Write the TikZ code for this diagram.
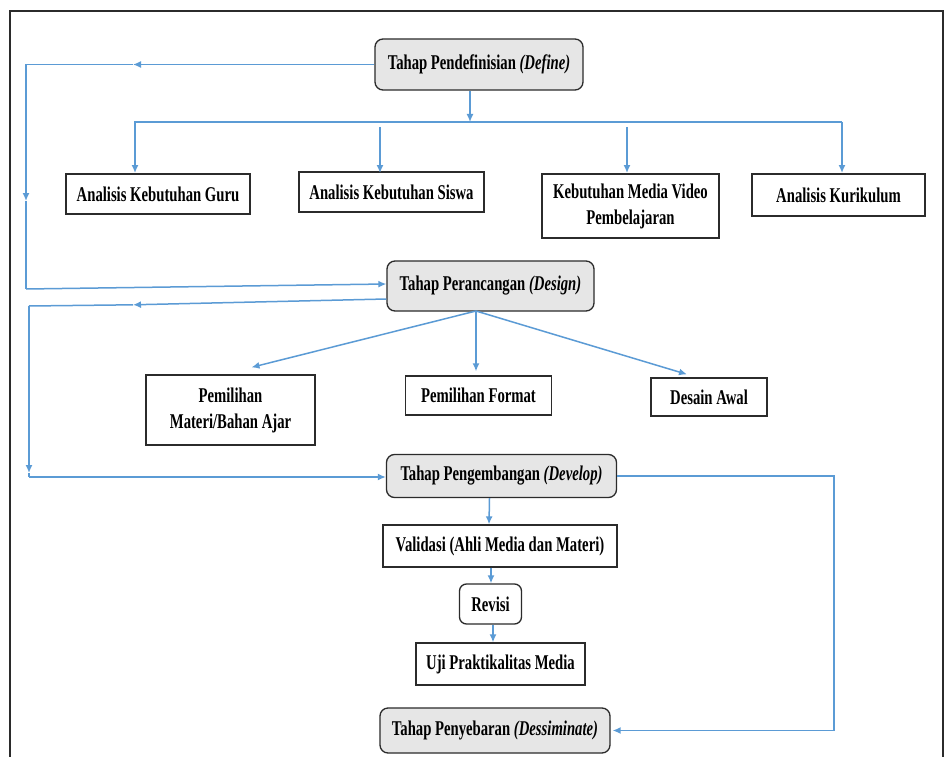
\documentclass[tikz,border=0pt]{standalone}
\usepackage{fontspec}
\setmainfont{Liberation Serif}[FakeStretch=0.70]
\usetikzlibrary{arrows.meta,calc}
\definecolor{flow}{HTML}{5B9BD5}
\definecolor{boxgray}{HTML}{E6E6E6}
\definecolor{edgecol}{HTML}{2B2B2B}
\begin{document}
\begin{tikzpicture}[x=1pt,y=-1pt,
  txt/.style={font=\fontsize{21}{26}\selectfont\bfseries, align=center, inner sep=0pt},
  phase/.style={txt, draw=edgecol, fill=boxgray, rounded corners=8pt, line width=1.3pt},
  plain/.style={txt, draw=edgecol, fill=white, line width=1.3pt},
  soft/.style={txt, draw=edgecol, fill=white, rounded corners=7pt, line width=1.3pt},
  link/.style={draw=flow, line width=1.5pt},
  arr/.style={link, -{Latex[length=8pt,width=7pt]}},
]
\useasboundingbox (0,0) rectangle (947,757);
\fill[white] (0,0) rectangle (947,757);
\draw[edgecol, line width=1.3pt] (10,11) rectangle (943,770);

% nodes
\node[phase, minimum width=208pt, minimum height=51pt] (define) at (479,64.5) {Tahap Pendefinisian \textit{(Define)}};
\node[plain, minimum width=184pt, minimum height=40pt] (guru) at (158,194) {Analisis Kebutuhan Guru};
\node[plain, minimum width=185pt, minimum height=40pt] (siswa) at (391.5,192) {Analisis Kebutuhan Siswa};
\node[plain, minimum width=177pt, minimum height=64pt] (media) at (630.5,206) {Kebutuhan Media Video\\Pembelajaran};
\node[plain, minimum width=173pt, minimum height=42pt] (kurikulum) at (838.5,195) {Analisis Kurikulum};

\node[phase, minimum width=207pt, minimum height=50pt] (design) at (490.5,286) {Tahap Perancangan \textit{(Design)}};
\node[plain, minimum width=169pt, minimum height=70pt] (materi) at (230.5,410) {Pemilihan\\Materi/Bahan Ajar};
\node[plain, minimum width=146pt, minimum height=39pt] (format) at (478.5,395.5) {Pemilihan Format};
\node[plain, minimum width=116pt, minimum height=38pt] (desain) at (709,397) {Desain Awal};

\node[phase, minimum width=230pt, minimum height=43pt] (develop) at (501.5,476) {Tahap Pengembangan \textit{(Develop)}};
\node[plain, minimum width=234pt, minimum height=42pt] (validasi) at (500,546) {Validasi (Ahli Media dan Materi)};
\node[soft, minimum width=62pt, minimum height=40pt] (revisi) at (490.5,604) {Revisi};
\node[plain, minimum width=169pt, minimum height=42pt] (uji) at (500.5,664) {Uji Praktikalitas Media};
\node[phase, minimum width=230pt, minimum height=45pt] (dessim) at (495,730.5) {Tahap Penyebaran \textit{(Dessiminate)}};

% coordinates
\coordinate (m1) at (133,64.5);
\coordinate (l1) at (26,64.5);
\coordinate (m2) at (26,201);
\coordinate (l2) at (26,289);
\coordinate (m3) at (133,304.8);
\coordinate (l3) at (29,306);
\coordinate (m4) at (29,473);
\coordinate (l4) at (29,477);
\coordinate (busL) at (134,122);
\coordinate (busR) at (842,122);
\coordinate (busD) at (470,122);
\coordinate (r1) at (834,476);
\coordinate (r2) at (834,730.5);
\coordinate (fan) at (476,311);

% define loop to design
\draw[arr] (define.west) -- (m1);
\draw[link] (m1) -- (l1);
\draw[arr] (l1) -- (m2);
\draw[link] (m2) -- (l2);
\draw[arr] (l2) -- ([yshift=2pt]design.west);

% define to analyses
\draw[arr] ([xshift=-9pt]define.south) -- (busD);
\draw[link] (busL) -- (busR);
\draw[arr] (135,122) -- (135,173);
\draw[arr] (380,127) -- (380,173);
\draw[arr] (627,127) -- (627,173);
\draw[arr] (busR) -- (842,173);

% design loop to develop
\draw[arr] ([yshift=-13pt]design.west) -- (m3);
\draw[link] (m3) -- (l3);
\draw[arr] (l3) -- (m4);
\draw[link] (m4) -- (l4);
\draw[arr] (l4) -- ([yshift=-1pt]develop.west);

% design fan
\draw[arr] (fan) -- ([xshift=21pt,yshift=7pt]materi.north);
\draw[arr] (fan) -- ([yshift=4pt]fan |- format.north);
\draw[arr] (fan) -- ([xshift=-22pt,yshift=3pt]desain.north);

% develop chain
\draw[arr] ([xshift=-12pt]develop.south) -- ([xshift=-11pt]validasi.north);
\draw[arr] ([xshift=-9pt]validasi.south) -- ([xshift=0.5pt]revisi.north);
\draw[arr] ([xshift=2.5pt]revisi.south) -- ([xshift=-7.5pt]uji.north);

% develop to dessiminate
\draw[link] (develop.east) -- (r1) -- (r2);
\draw[arr] (r2) -- ([xshift=2pt]dessim.east);
\end{tikzpicture}
\end{document}
